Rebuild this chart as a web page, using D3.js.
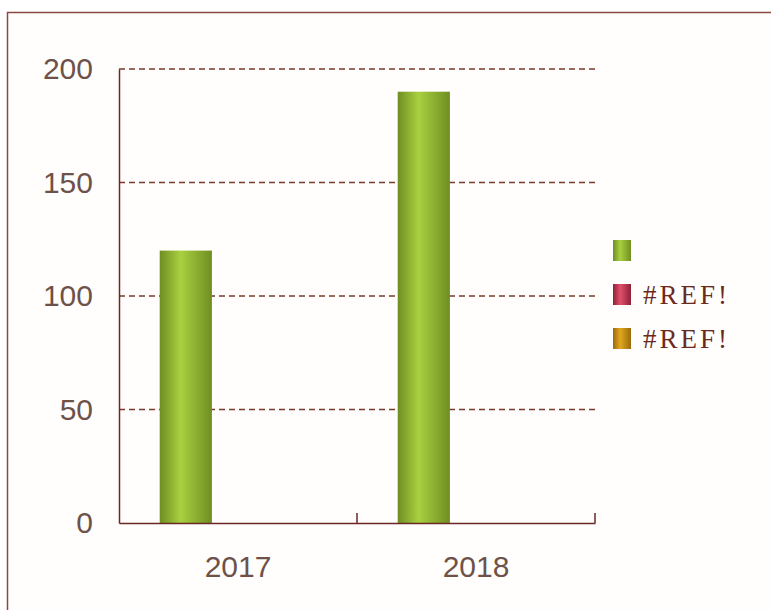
<!DOCTYPE html>
<html><head><meta charset="utf-8">
<script src="https://cdn.jsdelivr.net/npm/d3@7"></script>
<style>body{margin:0;background:#fff;}svg{display:block;}</style>
</head><body>
<script>
const categories = ["2017", "2018"];
const seriesNames = ["", "#REF!", "#REF!"];
const series1 = [120, 190];
const series2 = [0, 0];
const series3 = [0, 0];
const yTicks = [0, 50, 100, 150, 200];

(function () {
const W = 771, H = 610;
const svg = d3.select("body").append("svg").attr("width", W).attr("height", H);
const defs = svg.append("defs");
function grad(id, dark, light) {
  const g = defs.append("linearGradient").attr("id", id).attr("x1", "0%").attr("x2", "100%");
  g.append("stop").attr("offset", "0%").attr("stop-color", dark);
  g.append("stop").attr("offset", "40%").attr("stop-color", light);
  g.append("stop").attr("offset", "100%").attr("stop-color", dark);
}
grad("gGreen", "#6f8e22", "#a9d040");
grad("gRed", "#8e2038", "#e0506a");
grad("gGold", "#9a6a08", "#e0a820");
const fills = ["url(#gGreen)", "url(#gRed)", "url(#gGold)"];

svg.append("rect").attr("x", 7.5).attr("y", 12.5).attr("width", 800).attr("height", 700)
  .attr("fill", "#fffefc").attr("stroke", "#8a4a40").attr("stroke-width", 1.5);

const pLeft = 119, pRight = 595, pTop = 69, pBottom = 523;
const x = d3.scaleBand().domain(categories).range([pLeft, pRight]).paddingInner(0).paddingOuter(0);
const y = d3.scaleLinear().domain([0, 200]).range([pBottom, pTop]);
const inner = d3.scaleBand().domain([0, 1, 2]).range([0, x.bandwidth()]).paddingInner(0).paddingOuter(0.78);

const axisColor = "#6b2626";
const textColor = "#6e524a";
const font = "'Liberation Sans', sans-serif";

svg.append("g").selectAll("line").data(yTicks.filter(d => d > 0)).join("line")
  .attr("x1", pLeft).attr("x2", pRight).attr("y1", d => y(d)).attr("y2", d => y(d))
  .attr("stroke", "#7a3a2a").attr("stroke-width", 1.3).attr("stroke-dasharray", "6,4");

const data = [series1, series2, series3];
data.forEach((s, si) => {
  svg.append("g").selectAll("rect").data(categories).join("rect")
    .attr("x", (c) => x(c) + inner(si))
    .attr("width", inner.bandwidth())
    .attr("y", (c, i) => y(s[i]))
    .attr("height", (c, i) => pBottom - y(s[i]))
    .attr("fill", fills[si]);
});

const yAxis = svg.append("g").attr("transform", `translate(${pLeft},0)`)
  .call(d3.axisLeft(y).tickValues(yTicks).tickSize(0).tickPadding(26));
yAxis.select(".domain").attr("stroke", axisColor).attr("stroke-width", 1.5);
yAxis.selectAll("text").attr("fill", textColor).attr("font-size", 30).attr("font-family", font);

const xAxis = svg.append("g").attr("transform", `translate(0,${pBottom})`)
  .call(d3.axisBottom(x).tickSize(0).tickPadding(33));
xAxis.select(".domain").attr("stroke", axisColor).attr("stroke-width", 1.5);
xAxis.selectAll("text").attr("fill", textColor).attr("font-size", 30).attr("font-family", font);
svg.append("g").selectAll("line").data(categories).join("line")
  .attr("x1", c => x(c) + x.bandwidth()).attr("x2", c => x(c) + x.bandwidth())
  .attr("y1", pBottom).attr("y2", pBottom - 10)
  .attr("stroke", axisColor).attr("stroke-width", 1.5);

const lg = svg.append("g").attr("transform", "translate(613,240)");
seriesNames.forEach((n, i) => {
  const g = lg.append("g").attr("transform", `translate(0,${i * 44})`);
  g.append("rect").attr("width", 18).attr("height", 21).attr("fill", fills[i]);
  if (n) {
    g.append("text").attr("x", 30).attr("y", 20).text(n)
      .attr("textLength", 84).attr("lengthAdjust", "spacing")
      .attr("fill", "#6b2a20").attr("font-size", 27).attr("font-family", "'Liberation Serif', serif");
  }
});
})();
</script>
</body></html>
